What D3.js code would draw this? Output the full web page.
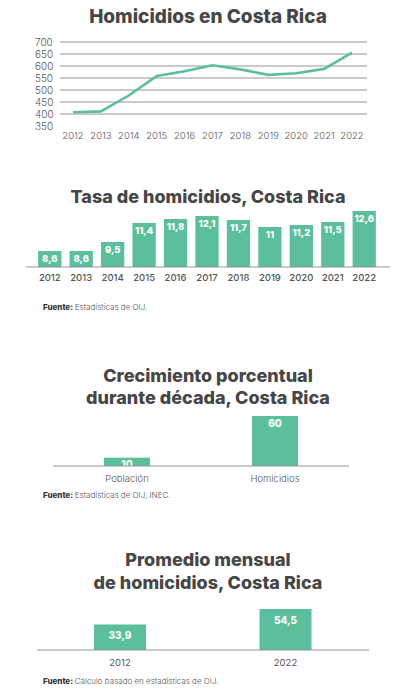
<!DOCTYPE html>
<html><head><meta charset="utf-8">
<script src="https://cdn.jsdelivr.net/npm/d3@7"></script>
<style>
html,body{margin:0;padding:0;background:#fff;}
svg{display:block;}
text{font-family:Inter,"Open Sans",sans-serif;}
</style></head>
<body>
<svg id="c" width="410" height="693"></svg>
<script>
const years = ["2012","2013","2014","2015","2016","2017","2018","2019","2020","2021","2022"];
const homicides = [407,411,477,558,578,603,586,563,570,588,656];
const yTicks1 = [350,400,450,500,550,600,650,700];
const rates = [8.6,8.6,9.5,11.4,11.8,12.1,11.7,11,11.2,11.5,12.6];
const growthCats = ["Población","Homicidios"];
const growthVals = [10,60];
const monthCats = ["2012","2022"];
const monthVals = [33.9,54.5];

const GREEN = "#5cbf9b", TITLE = "#464646", TXT = "#555", AX = "#8a8a8a";
const svg = d3.select("#c");
const fmt = v => String(v).replace(".", ",");

function title(lines, y0, dy, fs){
  lines.forEach((t,i)=>svg.append("text").attr("x",208).attr("y",y0+i*dy)
    .attr("text-anchor","middle").attr("font-size",fs||18).attr("font-weight",800)
    .attr("fill",TITLE).text(t));
}
function source(y, txt){
  const t = svg.append("text").attr("x",43).attr("y",y).attr("font-size",8).attr("fill",TXT).attr("font-weight",300);
  t.append("tspan").attr("font-weight",800).attr("fill","#333").text("Fuente: ");
  t.append("tspan").text(txt);
}

// Chart 1: line
title(["Homicidios en Costa Rica"], 23, 0, 19);
const x1 = d3.scalePoint().domain(years).range([73,352]);
const y1 = d3.scaleLinear().domain([350,700]).range([126,42]);
const g1 = svg.append("g");
yTicks1.filter(v=>v>=400).forEach(v=>{
  g1.append("line").attr("x1",60).attr("x2",367).attr("y1",y1(v)).attr("y2",y1(v))
    .attr("stroke",AX).attr("stroke-width",0.9);
});
yTicks1.forEach(v=>{
  g1.append("text").attr("x",35).attr("y",y1(v)+3.5).attr("font-size",10)
    .attr("fill",TXT).attr("font-weight",300).text(v);
});
years.forEach(yr=>{
  g1.append("text").attr("x",x1(yr)).attr("y",139).attr("text-anchor","middle")
    .attr("font-size",9.5).attr("font-weight",300).attr("fill",TXT).text(yr);
});
g1.append("path").datum(homicides)
  .attr("d", d3.line().x((d,i)=>x1(years[i])).y(d=>y1(d)))
  .attr("fill","none").attr("stroke",GREEN).attr("stroke-width",2.6);

// Chart 2: rate bars
title(["Tasa de homicidios, Costa Rica"], 203, 0);
const x2 = d3.scaleBand().domain(years).range([35,379]).paddingInner(0.26).paddingOuter(0.1);
const y2 = d3.scaleLinear().domain([7,12.6]).range([267,211]);
const g2 = svg.append("g");
g2.selectAll("rect").data(rates).join("rect")
  .attr("x",(d,i)=>x2(years[i])).attr("width",x2.bandwidth())
  .attr("y",d=>y2(d)).attr("height",d=>267-y2(d)).attr("fill",GREEN);
g2.selectAll("text.v").data(rates).join("text").attr("class","v")
  .attr("x",(d,i)=>x2(years[i])+x2.bandwidth()/2).attr("y",d=>y2(d)+10.5)
  .attr("text-anchor","middle").attr("font-size",9.5).attr("font-weight",800)
  .attr("fill","#fff").text(d=>fmt(d));
g2.append("line").attr("x1",26).attr("x2",390).attr("y1",267).attr("y2",267)
  .attr("stroke",AX).attr("stroke-width",0.9);
years.forEach(yr=>{
  g2.append("text").attr("x",x2(yr)+x2.bandwidth()/2).attr("y",281)
    .attr("text-anchor","middle").attr("font-size",9.5).attr("font-weight",500)
    .attr("fill",TXT).text(yr);
});
source(310, "Estadísticas de OIJ.");

// Chart 3: growth
title(["Crecimiento porcentual","durante década, Costa Rica"], 382, 22);
const x3 = d3.scalePoint().domain(growthCats).range([127,275]);
const y3 = d3.scaleLinear().domain([0,60]).range([466,416]);
const g3 = svg.append("g");
g3.selectAll("rect").data(growthVals).join("rect")
  .attr("x",(d,i)=>x3(growthCats[i])-23).attr("width",46)
  .attr("y",d=>y3(d)).attr("height",d=>466-y3(d)).attr("fill",GREEN);
g3.selectAll("text.v").data(growthVals).join("text").attr("class","v")
  .attr("x",(d,i)=>x3(growthCats[i])).attr("y",d=>y3(d)+10.5)
  .attr("text-anchor","middle").attr("font-size",10).attr("font-weight",800)
  .attr("fill","#fff").text(d=>fmt(d));
g3.append("line").attr("x1",53).attr("x2",349).attr("y1",466).attr("y2",466)
  .attr("stroke",AX).attr("stroke-width",0.9);
growthCats.forEach(c=>{
  g3.append("text").attr("x",x3(c)).attr("y",482).attr("text-anchor","middle")
    .attr("font-size",9.5).attr("font-weight",300).attr("fill",TXT).text(c);
});
source(498, "Estadísticas de OIJ, INEC.");

// Chart 4: monthly
title(["Promedio mensual","de homicidios, Costa Rica"], 566, 23);
const x4 = d3.scalePoint().domain(monthCats).range([120,285.5]);
const y4 = d3.scaleLinear().domain([0,54.5]).range([650,609]);
const g4 = svg.append("g");
g4.selectAll("rect").data(monthVals).join("rect")
  .attr("x",(d,i)=>x4(monthCats[i])-26).attr("width",52)
  .attr("y",d=>y4(d)).attr("height",d=>650-y4(d)).attr("fill",GREEN);
g4.selectAll("text.v").data(monthVals).join("text").attr("class","v")
  .attr("x",(d,i)=>x4(monthCats[i])).attr("y",d=>y4(d)+15)
  .attr("text-anchor","middle").attr("font-size",10).attr("font-weight",800)
  .attr("fill","#fff").text(d=>fmt(d));
g4.append("line").attr("x1",37).attr("x2",369).attr("y1",650).attr("y2",650)
  .attr("stroke",AX).attr("stroke-width",0.9);
monthCats.forEach(c=>{
  g4.append("text").attr("x",x4(c)).attr("y",666).attr("text-anchor","middle")
    .attr("font-size",9.5).attr("font-weight",400).attr("fill",TXT).text(c);
});
source(684, "Cálculo basado en estadísticas de OIJ.");
</script>
</body></html>
